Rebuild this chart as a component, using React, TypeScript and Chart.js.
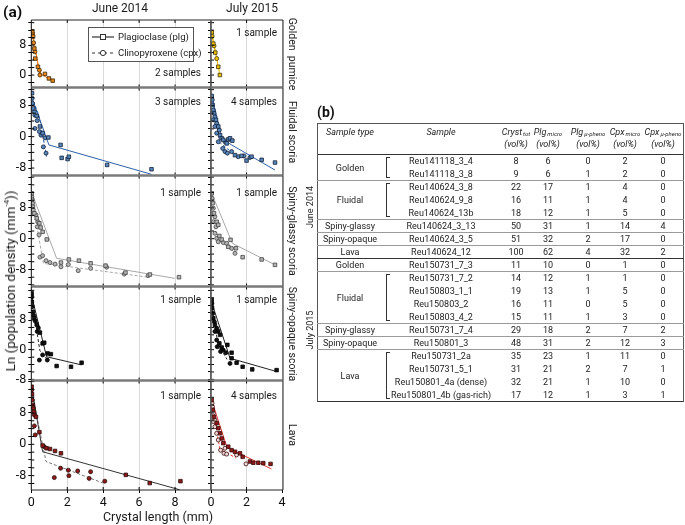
import React, { useEffect, useRef } from 'react';
import { Chart, registerables } from 'chart.js';
Chart.register(...registerables);

type Pt = [number, number];
const FONT = 'Roboto, "Liberation Sans", Arial, sans-serif';

// ---------- (a) data : [crystal length (mm), ln(n)] ----------
const goldenJun14Plg: Pt[] = [[0.06, 11.7], [0.1, 10.3], [0.17, 7.1], [0.22, 4.4], [0.37, 2.2], [0.76, 0.3], [0.98, -0.9], [1.19, -1.5]];
const goldenJun14Cpx: Pt[] = [[0.07, 11.1], [0.13, 8.6], [0.2, 6.2], [0.45, 1.3], [0.48, 0.0]];
const goldenJun14PlgFit: Pt[] = [[0.03, 12.2], [0.42, 1.8], [0.55, 0.2], [1.2, -1.6]];
const goldenJun14CpxFit: Pt[] = [[0.03, 11.3], [0.48, -0.1]];

const goldenJul15Plg: Pt[] = [[0.04, 11.4], [0.13, 8.4], [0.24, 6.0], [0.41, 2.2], [0.5, 0.0]];
const goldenJul15Cpx: Pt[] = [[0.06, 10.4], [0.17, 7.8], [0.32, 4.4]];
const goldenJul15PlgFit: Pt[] = [[0.02, 12], [0.5, 0]];
const goldenJul15CpxFit: Pt[] = [[0.02, 11.2], [0.33, 4.2]];

const fluidalJun14Plg: Pt[] = [[0.04, 11.1], [0.11, 7.2], [0.3, 5.3], [0.48, 2.6], [0.63, 0.9], [0.95, -0.2], [1.63, -2.1], [1.69, -5.4], [2.02, -5.7], [2.09, -5.1], [4.22, -7.2], [6.69, -8.3]];
const fluidalJun14Cpx: Pt[] = [[0.05, 9.8], [0.07, 8.5], [0.17, 6.4], [0.2, 5.5], [0.33, 4.1], [0.2, 2.1], [0.45, 1.3], [0.54, 0.4], [0.76, -0.3], [0.67, -2.6], [0.82, -4.2]];
const fluidalJun14PlgFit: Pt[] = [[0.03, 10], [0.98, -2.1], [6.69, -9.6]];
const fluidalJun14CpxFit: Pt[] = [[0.02, 10.2], [0.45, 5.1], [0.85, -5.1]];

const fluidalJul15Plg: Pt[] = [[0.04, 10.4], [0.09, 8.1], [0.17, 6.0], [0.28, 4.3], [0.41, 2.6], [0.51, 0.4], [0.6, -0.4], [0.69, -0.8], [0.88, -1.7], [0.97, -0.7], [1.07, -0.4], [1.2, -1.0], [1.35, -4.7], [1.72, -4.9], [2.0, -6.1], [2.28, -5.1], [2.85, -5.9], [3.6, -6.6]];
const fluidalJul15Cpx: Pt[] = [[0.07, 9.4], [0.13, 6.8], [0.22, 5.1], [0.32, 3.4], [0.47, 1.7], [0.22, 2.6], [0.13, 4.3], [0.32, 0.9], [0.41, -1.3], [0.79, -1.3], [0.66, -3.0], [0.79, -3.8], [0.92, -4.2], [1.16, -3.8], [1.53, -5.1], [1.85, -4.9], [2.19, -5.3]];
const fluidalJul15PlgFit: Pt[] = [[0.02, 11], [0.6, -0.5], [1.16, -2.1], [3.6, -8.5]];
const fluidalJul15CpxFit: Pt[] = [[0.02, 10], [0.5, -1.5], [1.3, -4.5]];

const glassyJun14Plg: Pt[] = [[0.02, 11.8], [0.05, 10.1], [0.09, 8.3], [0.17, 6.6], [0.3, 5.3], [0.45, 4.0], [0.52, 2.9], [0.63, 1.8], [0.86, -0.2], [1.65, -6.2], [2.09, -5.4], [2.65, -5.7], [3.3, -6.4], [4.13, -7.0], [5.24, -8.8], [6.6, -9.3], [8.22, -10.0]];
const glassyJun14Cpx: Pt[] = [[0.03, 10.9], [0.07, 9.2], [0.11, 7.5], [0.26, 6.2], [0.36, 4.4], [0.33, 3.1], [0.43, 1.0], [0.48, -4.8], [0.63, -4.4], [0.82, -5.7], [1.04, -6.2], [1.32, -6.6], [1.65, -7.3], [2.06, -6.7], [2.61, -8.3], [3.3, -7.7], [4.19, -7.4], [5.17, -9.2], [6.5, -9.6]];
const glassyJun14PlgFit: Pt[] = [[0.02, 12], [1.41, -5.1], [7.98, -10.3]];
const glassyJun14CpxFit: Pt[] = [[0.02, 11], [0.67, -6.4], [6.5, -10.0]];

const glassyJul15Plg: Pt[] = [[0.04, 11.8], [0.09, 9.2], [0.17, 6.6], [0.32, 4.4], [0.41, 3.6], [0.47, 0.7], [0.6, -0.2], [1.1, -0.3], [0.97, -2.1], [1.4, -2.5], [1.78, -4.8], [2.85, -5.4], [3.6, -6.8]];
const glassyJul15Cpx: Pt[] = [[0.06, 10.5], [0.13, 7.9], [0.22, 5.7], [0.13, 4.4], [0.28, 3.1], [0.22, 1.4], [0.32, 0.1], [0.41, -0.8], [0.69, -1.0], [0.88, -1.2], [1.16, -2.5], [1.35, -3.8]];
const glassyJul15PlgFit: Pt[] = [[0.02, 12], [1.2, -1.2], [3.6, -6.8]];
const glassyJul15CpxFit: Pt[] = [[0.02, 11], [0.3, 0.3], [1.4, -3.8]];

const opaqueJun14Plg: Pt[] = [[0.02, 15.2], [0.03, 12.9], [0.09, 10.2], [0.17, 8.5], [0.3, 6.8], [0.48, 4.6], [0.63, 1.7], [0.72, 1.9], [0.91, -1.0], [1.09, -1.2], [1.41, -4.4], [2.21, -4.6], [2.8, -3.5]];
const opaqueJun14Cpx: Pt[] = [[0.03, 14.3], [0.05, 11.6], [0.13, 9.2], [0.22, 7.7], [0.39, 5.9], [0.33, 4.9], [0.45, -2.8], [0.63, -1.4], [0.89, -2.8]];
const opaqueJun14PlgFit: Pt[] = [[0.02, 14.5], [0.85, -1.9], [2.8, -4.1]];
const opaqueJun14CpxFit: Pt[] = [[0.02, 13.5], [0.48, -0.3], [0.9, -2.6]];

const opaqueJul15Plg: Pt[] = [[0.04, 13.4], [0.06, 11.2], [0.13, 8.5], [0.22, 6.7], [0.41, 4.9], [0.51, 4.0], [0.47, 1.7], [0.6, 0.6], [0.92, 1.3], [1.16, -0.8], [1.16, -2.3], [1.44, -3.5], [1.78, -4.6], [2.32, -5.3], [3.69, -5.5]];
const opaqueJul15Cpx: Pt[] = [[0.05, 12.5], [0.1, 9.8], [0.19, 7.5], [0.32, 5.8], [0.22, 4.9], [0.32, 2.6], [0.35, 0.8], [0.69, -0.1], [0.54, -0.5], [0.84, -0.8], [1.07, -3.7]];
const opaqueJul15PlgFit: Pt[] = [[0.02, 13], [1.07, -2.3], [3.7, -5.9]];
const opaqueJul15CpxFit: Pt[] = [[0.02, 12], [0.4, 1.5], [0.9, -2.6]];

const lavaJun14Plg: Pt[] = [[0.02, 14.7], [0.04, 12.8], [0.09, 10.0], [0.15, 8.3], [0.26, 7.0], [0.45, 3.1], [0.63, -0.3], [0.85, -1.0], [1.04, -1.2], [1.32, -1.7], [1.65, -2.3], [5.26, -7.8], [6.59, -9.9], [8.3, -9.4]];
const lavaJun14Cpx: Pt[] = [[0.03, 13.9], [0.06, 11.3], [0.11, 9.2], [0.17, 7.5], [0.17, 4.7], [0.22, 2.4], [0.72, -0.6], [1.28, -8.5], [1.63, -6.1], [2.06, -6.6], [2.09, -8.0], [2.58, -6.8], [3.22, -8.7], [3.3, -7.0], [4.09, -9.4]];
const lavaJun14PlgFit: Pt[] = [[0.02, 14.5], [0.63, -1.9], [8.26, -11.6]];
const lavaJun14CpxFit: Pt[] = [[0.02, 13.5], [0.82, -4.4], [4.0, -9.9]];

const lavaJul15Plg: Pt[] = [[0.04, 11.3], [0.1, 8.8], [0.17, 7.0], [0.32, 5.4], [0.41, 4.1], [0.51, 2.8], [0.6, 1.5], [0.69, 0.3], [0.97, -0.6], [1.16, -1.5], [1.35, -1.9], [1.63, -2.3], [1.78, -3.2], [2.19, -4.4], [2.38, -4.7], [2.66, -4.7], [2.94, -4.8], [3.35, -5.0]];
const lavaJul15Cpx: Pt[] = [[0.06, 10.5], [0.08, 9.6], [0.13, 7.9], [0.22, 6.2], [0.13, 5.8], [0.22, 4.5], [0.32, 2.8], [0.41, 1.1], [0.54, -1.5], [0.73, -2.3], [0.88, -2.5], [0.79, -1.0], [1.44, -2.7], [1.97, -5.0]];
const lavaJul15PlgFit: Pt[] = [[0.02, 11.5], [0.9, -0.8], [3.4, -6.3]];
const lavaJul15CpxFit: Pt[] = [[0.02, 10.8], [0.5, -1.2], [1.4, -3.5]];

// ---------- (b) table data ----------
const sampleNames = ['Reu141118_3_4', 'Reu141118_3_8', 'Reu140624_3_8', 'Reu140624_9_8', 'Reu140624_13b', 'Reu140624_3_13', 'Reu140624_3_5', 'Reu140624_12', 'Reu150731_7_3', 'Reu150731_7_2', 'Reu150803_1_1', 'Reu150803_2', 'Reu150803_4_2', 'Reu150731_7_4', 'Reu150801_3', 'Reu150731_2a', 'Reu150731_5_1', 'Reu150801_4a (dense)', 'Reu150801_4b (gas-rich)'];
const crystTot = [8, 9, 22, 16, 18, 50, 51, 100, 11, 14, 19, 16, 15, 29, 48, 35, 31, 32, 17];
const plgMicro = [6, 6, 17, 11, 12, 31, 32, 62, 10, 12, 13, 11, 11, 18, 31, 23, 21, 21, 12];
const plgPheno = [0, 1, 1, 1, 1, 1, 2, 4, 0, 1, 1, 0, 1, 2, 2, 1, 2, 1, 1];
const cpxMicro = [2, 2, 4, 4, 5, 14, 17, 32, 1, 1, 5, 5, 3, 7, 12, 11, 7, 10, 3];
const cpxPheno = [0, 0, 0, 0, 0, 4, 0, 2, 0, 0, 0, 0, 0, 2, 3, 0, 1, 0, 1];
const groupTypes = ['Golden', 'Fluidal', 'Spiny-glassy', 'Spiny-opaque', 'Lava', 'Golden', 'Fluidal', 'Spiny-glassy', 'Spiny-opaque', 'Lava'];
const groupSizes = [2, 3, 1, 1, 1, 1, 4, 1, 1, 4];
const campaigns = ['June 2014', 'July 2015'];
const campaignSizes = [8, 11];

// ---------- layout ----------
interface PanelSpec { plg: Pt[]; cpx: Pt[]; plgFit: Pt[]; cpxFit: Pt[]; fill: string; cpxFill?: string; stroke: string; line: string; cpxLine?: string; note: string; noteY: number }
interface RowSpec { top: number; bottom: number; yMin: number; yMax: number; name: string; L: PanelSpec; R: PanelSpec }

const ROWS: RowSpec[] = [
  {
    top: 20, bottom: 87.5, yMin: -3.33, yMax: 14.71, name: 'Golden  pumice',
    L: { plg: goldenJun14Plg, cpx: goldenJun14Cpx, plgFit: goldenJun14PlgFit, cpxFit: goldenJun14CpxFit, fill: '#e8891c', stroke: '#3a2200', line: '#f07f1c', note: '2 samples', noteY: 73 },
    R: { plg: goldenJul15Plg, cpx: goldenJul15Cpx, plgFit: goldenJul15PlgFit, cpxFit: goldenJul15CpxFit, fill: '#f2c200', stroke: '#3a3000', line: '#e6b800', note: '1 sample', noteY: 33 },
  },
  {
    top: 87.5, bottom: 175.5, yMin: -9.9, yMax: 12.55, name: 'Fluidal scoria',
    L: { plg: fluidalJun14Plg, cpx: fluidalJun14Cpx, plgFit: fluidalJun14PlgFit, cpxFit: fluidalJun14CpxFit, fill: '#5a86b8', stroke: '#0f1f3a', line: '#2f5fa8', note: '3 samples', noteY: 102 },
    R: { plg: fluidalJul15Plg, cpx: fluidalJul15Cpx, plgFit: fluidalJul15PlgFit, cpxFit: fluidalJul15CpxFit, fill: '#5a86b8', stroke: '#0f1f3a', line: '#2f5fa8', note: '4 samples', noteY: 102 },
  },
  {
    top: 175.5, bottom: 286.5, yMin: -12.42, yMax: 16.42, name: 'Spiny-glassy scoria',
    L: { plg: glassyJun14Plg, cpx: glassyJun14Cpx, plgFit: glassyJun14PlgFit, cpxFit: glassyJun14CpxFit, fill: '#b5b5b5', stroke: '#444', line: '#a8a8a8', note: '1 sample', noteY: 193 },
    R: { plg: glassyJul15Plg, cpx: glassyJul15Cpx, plgFit: glassyJul15PlgFit, cpxFit: glassyJul15CpxFit, fill: '#b5b5b5', stroke: '#444', line: '#a8a8a8', note: '1 sample', noteY: 193 },
  },
  {
    top: 286.5, bottom: 380.5, yMin: -8.3, yMax: 17.03, name: 'Spiny-opaque scoria',
    L: { plg: opaqueJun14Plg, cpx: opaqueJun14Cpx, plgFit: opaqueJun14PlgFit, cpxFit: opaqueJun14CpxFit, fill: '#111', stroke: '#000', line: '#222', note: '1 sample', noteY: 300 },
    R: { plg: opaqueJul15Plg, cpx: opaqueJul15Cpx, plgFit: opaqueJul15PlgFit, cpxFit: opaqueJul15CpxFit, fill: '#111', stroke: '#000', line: '#222', note: '1 sample', noteY: 300 },
  },
  {
    top: 380.5, bottom: 490, yMin: -11.66, yMax: 16.28, name: 'Lava',
    L: { plg: lavaJun14Plg, cpx: lavaJun14Cpx, plgFit: lavaJun14PlgFit, cpxFit: lavaJun14CpxFit, fill: '#8e1b1b', stroke: '#2a0a0a', line: '#333', cpxLine: '#777', note: '1 sample', noteY: 396 },
    R: { plg: lavaJul15Plg, cpx: lavaJul15Cpx, plgFit: lavaJul15PlgFit, cpxFit: lavaJul15CpxFit, fill: '#8e1b1b', cpxFill: '#f2dada', stroke: '#3a0a0a', line: '#e83a3a', note: '4 samples', noteY: 396 },
  },
];

const COLS = {
  L: { plotLeft: 31.3, plotRight: 211, xMax: 10, canvasLeft: 0, axisW: 31.3, noteRight: 201 },
  R: { plotLeft: 211, plotRight: 283, xMax: 4.05, canvasLeft: 200, axisW: 11, noteRight: 277 },
};

function makeFrame(first: boolean, last: boolean, col: 'L' | 'R') {
  return {
    id: 'frame',
    afterDraw(chart: any) {
      const { ctx, chartArea: a } = chart;
      const xs = chart.scales.x, ys = chart.scales.y;
      ctx.save();
      ctx.strokeStyle = '#000';
      ctx.lineWidth = 1;
      ctx.beginPath();
      ys.ticks.forEach((t: any) => { const y = ys.getPixelForValue(t.value); ctx.moveTo(a.left, y); ctx.lineTo(a.left + 3, y); });
      xs.ticks.forEach((t: any) => {
        const x = xs.getPixelForValue(t.value);
        if (x <= a.left + 1 || x >= a.right - 1) return;
        ctx.moveTo(x, a.top); ctx.lineTo(x, a.top + 3);
        ctx.moveTo(x, a.bottom); ctx.lineTo(x, a.bottom - 3);
      });
      ctx.stroke();
      const seg = (x1: number, y1: number, x2: number, y2: number, c: string, w: number) => {
        ctx.beginPath(); ctx.strokeStyle = c; ctx.lineWidth = w; ctx.moveTo(x1, y1); ctx.lineTo(x2, y2); ctx.stroke();
      };
      seg(a.left, a.top, a.right, a.top, first ? '#222' : '#7a7a7a', first ? 1 : 2);
      seg(a.left, a.bottom, a.right, a.bottom, last ? '#222' : '#7a7a7a', last ? 1 : 2);
      if (col === 'L') {
        seg(a.left, a.top, a.left, a.bottom, '#111', 1);
        seg(a.right, a.top, a.right, a.bottom, '#555', 1.5);
      } else {
        seg(a.left, a.top, a.left, a.bottom, '#555', 1.5);
        seg(a.right, a.top, a.right, a.bottom, '#222', 1);
      }
      ctx.restore();
    },
  };
}

function Panel({ row, col, first, last }: { row: RowSpec; col: 'L' | 'R'; first: boolean; last: boolean }) {
  const ref = useRef<HTMLCanvasElement>(null);
  const g = COLS[col];
  const p = row[col];
  const padRight = 6;
  const width = Math.ceil(g.plotRight - g.canvasLeft + padRight);
  const canvasTop = Math.floor(row.top) - 8;
  const xAxisH = last ? 24 : 0;
  const height = Math.ceil(row.bottom + (last ? 26 : 8)) - canvasTop;
  const padTop = row.top - canvasTop;
  const padBottom = canvasTop + height - row.bottom - xAxisH;

  useEffect(() => {
    const toXY = (arr: Pt[]) => arr.map(([x, y]) => ({ x, y }));
    const chart = new Chart(ref.current as HTMLCanvasElement, {
      type: 'scatter',
      data: {
        datasets: [
          { data: toXY(p.plg), pointStyle: 'rect', pointRadius: 2.5, backgroundColor: p.fill, borderColor: p.stroke, borderWidth: 0.8, showLine: false },
          { data: toXY(p.cpx), pointStyle: 'circle', pointRadius: 2.0, backgroundColor: p.cpxFill || p.fill, borderColor: p.stroke, borderWidth: 0.8, showLine: false },
          { data: toXY(p.plgFit), showLine: true, pointRadius: 0, borderColor: p.line, borderWidth: 1, backgroundColor: 'transparent' },
          { data: toXY(p.cpxFit), showLine: true, pointRadius: 0, borderColor: p.cpxLine || p.line, borderWidth: 1, borderDash: [3, 2], backgroundColor: 'transparent' },
        ],
      } as any,
      options: {
        animation: false,
        responsive: false,
        devicePixelRatio: 1,
        events: [],
        layout: { padding: { left: 0, right: width - (g.plotRight - g.canvasLeft), top: padTop, bottom: padBottom } },
        plugins: { legend: { display: false }, tooltip: { enabled: false } },
        scales: {
          x: {
            type: 'linear', min: 0, max: g.xMax,
            afterFit: (s: any) => { s.height = xAxisH; s.paddingLeft = 0; s.paddingRight = 0; },
            ticks: { display: last, stepSize: 2, autoSkip: false, includeBounds: false, maxRotation: 0, padding: 2, font: { family: FONT, size: 12.5 }, color: '#111', callback: (v: any) => (v <= 8 ? String(v) : '') },
            grid: { color: '#d9d9d9', lineWidth: 1, drawTicks: last, tickLength: 3, tickColor: '#000' },
            border: { display: false },
          },
          y: {
            type: 'linear', min: row.yMin, max: row.yMax,
            afterFit: (s: any) => { s.width = g.axisW; s.paddingTop = 0; s.paddingBottom = 0; },
            ticks: { stepSize: 2, autoSkip: false, includeBounds: false, padding: 2, font: { family: FONT, size: 12.5 }, color: '#111', callback: (v: any) => (col === 'L' && (v === -8 || v === 0 || v === 8) ? String(v) : '') },
            grid: { drawOnChartArea: false, drawTicks: true, tickLength: 3, tickColor: '#000', color: '#000' },
            border: { display: false },
          },
        },
      } as any,
      plugins: [makeFrame(first, last, col) as any],
    });
    return () => chart.destroy();
  }, []);

  return (
    <canvas
      ref={ref}
      width={width}
      height={height}
      style={{ position: 'absolute', left: g.canvasLeft, top: canvasTop, width, height }}
    />
  );
}

const abs = (extra: React.CSSProperties): React.CSSProperties => ({ position: 'absolute', whiteSpace: 'nowrap', lineHeight: 1, ...extra });
const center = (x: number, y: number, size: number, extra: React.CSSProperties = {}) =>
  abs({ left: x, top: y, transform: 'translate(-50%,-50%)', fontSize: size, fontFamily: FONT, color: '#1a1a1a', ...extra });

function LegendSymbol({ kind }: { kind: 'plg' | 'cpx' }) {
  return (
    <svg width={24} height={10} style={{ display: 'block' }}>
      <line x1={1} y1={5} x2={23} y2={5} stroke="#333" strokeWidth={1.2} strokeDasharray={kind === 'cpx' ? '3,3' : undefined} />
      {kind === 'plg'
        ? <rect x={9.5} y={2.5} width={5} height={5} fill="#fff" stroke="#333" strokeWidth={1} />
        : <circle cx={12} cy={5} r={2.6} fill="#fff" stroke="#333" strokeWidth={1} />}
    </svg>
  );
}

// table geometry
const T_LEFT = 317, T_RIGHT = 684, T_TOP = 123, HEAD_BOTTOM = 154.5, ROW_H = 13;
const C = { type: 350, sample: 441, cryst: 516, plgM: 548, plgP: 588, cpxM: 625, cpxP: 663 };
const TFONT = 'Roboto, "Open Sans", sans-serif';

function Table() {
  const els: React.ReactNode[] = [];
  const nRows = sampleNames.length;
  const bottom = HEAD_BOTTOM + nRows * ROW_H;
  const cell = (key: string, x: number, y: number, content: React.ReactNode, extra: React.CSSProperties = {}) =>
    els.push(<div key={key} style={abs({ left: x, top: y, transform: 'translate(-50%,-50%)', fontSize: 9, fontFamily: TFONT, color: '#222', ...extra })}>{content}</div>);
  const hline = (key: string, y: number, color: string, h = 1) =>
    els.push(<div key={key} style={{ position: 'absolute', left: T_LEFT, width: T_RIGHT - T_LEFT, top: y - h / 2, height: h, background: color }} />);

  hline('top', T_TOP, '#555');
  hline('head', HEAD_BOTTOM, '#333');
  hline('bottom', bottom, '#333');
  els.push(<div key="lb" style={{ position: 'absolute', left: T_LEFT, top: T_TOP, width: 1, height: bottom - T_TOP, background: '#555' }} />);
  els.push(<div key="rb" style={{ position: 'absolute', left: T_RIGHT - 1, top: T_TOP, width: 1, height: bottom - T_TOP, background: '#555' }} />);

  const h1 = T_TOP + 8.5, h2 = T_TOP + 21;
  const it: React.CSSProperties = { fontStyle: 'italic' };
  const sub = (s: string) => <sub style={{ fontSize: 6, verticalAlign: 'baseline', position: 'relative', top: 1.5, marginLeft: 1 }}>{s}</sub>;
  cell('h-type', C.type, h1, 'Sample type', it);
  cell('h-sample', C.sample, h1, 'Sample', it);
  cell('h-cryst', C.cryst, h1, <span>Cryst{sub('tot')}</span>, it);
  cell('h-plgm', C.plgM, h1, <span>Plg{sub('micro')}</span>, it);
  cell('h-plgp', C.plgP, h1, <span>Plg{sub('μ-pheno')}</span>, it);
  cell('h-cpxm', C.cpxM, h1, <span>Cpx{sub('micro')}</span>, it);
  cell('h-cpxp', C.cpxP, h1, <span>Cpx{sub('μ-pheno')}</span>, it);
  [C.cryst, C.plgM, C.plgP, C.cpxM, C.cpxP].forEach((x, i) => cell('h-v' + i, x, h2, '(vol%)', it));

  for (let i = 0; i < nRows; i++) {
    const y = HEAD_BOTTOM + ROW_H * (i + 0.5);
    cell('s' + i, C.sample, y, sampleNames[i]);
    cell('c' + i, C.cryst, y, String(crystTot[i]));
    cell('pm' + i, C.plgM, y, String(plgMicro[i]));
    cell('pp' + i, C.plgP, y, String(plgPheno[i]));
    cell('cm' + i, C.cpxM, y, String(cpxMicro[i]));
    cell('cp' + i, C.cpxP, y, String(cpxPheno[i]));
  }

  let start = 0;
  groupTypes.forEach((t, gi) => {
    const n = groupSizes[gi];
    const y0 = HEAD_BOTTOM + start * ROW_H;
    const y1 = y0 + n * ROW_H;
    cell('g' + gi, C.type, (y0 + y1) / 2, t);
    if (n > 1) {
      els.push(<div key={'br' + gi} style={{ position: 'absolute', left: 386, top: y0 + 2.5, width: 4, height: y1 - y0 - 5, borderLeft: '1px solid #333', borderTop: '1px solid #333', borderBottom: '1px solid #333', boxSizing: 'border-box' }} />);
    }
    start += n;
    if (start < nRows) hline('gl' + gi, y1, start === campaignSizes[0] ? '#333' : '#9a9a9a', start === campaignSizes[0] ? 1.3 : 1);
  });

  let cs = 0;
  campaigns.forEach((c, ci) => {
    const y0 = HEAD_BOTTOM + cs * ROW_H, y1 = y0 + campaignSizes[ci] * ROW_H;
    els.push(<div key={'camp' + ci} style={abs({ left: 310, top: (y0 + y1) / 2, transform: 'translate(-50%,-50%) rotate(-90deg)', fontSize: 9, fontFamily: TFONT, color: '#222' })}>{c}</div>);
    cs += campaignSizes[ci];
  });

  els.push(<div key="b" style={abs({ left: 317, top: 105, fontSize: 14, fontWeight: 700, fontFamily: FONT, color: '#111' })}>(b)</div>);
  return <>{els}</>;
}

export default function App() {
  return (
    <div style={{ position: 'fixed', left: 0, top: 0, width: 685, height: 525, background: '#fff', overflow: 'hidden' }}>
      {ROWS.map((r, i) => (
        <React.Fragment key={i}>
          <Panel row={r} col="L" first={i === 0} last={i === ROWS.length - 1} />
          <Panel row={r} col="R" first={i === 0} last={i === ROWS.length - 1} />
        </React.Fragment>
      ))}

      <div style={abs({ left: 3, top: 5, fontSize: 15.5, fontWeight: 700, fontFamily: FONT, color: '#111' })}>(a)</div>
      <div style={center(120, 8, 12)}>June 2014</div>
      <div style={center(252, 8, 12)}>July 2015</div>

      {ROWS.map((r, i) => (
        <div key={'strip' + i} style={center(291.5, (r.top + r.bottom) / 2, 10.5, { writingMode: 'vertical-rl', whiteSpace: 'pre' })}>{r.name}</div>
      ))}

      {ROWS.map((r, i) => (
        <React.Fragment key={'notes' + i}>
          <div style={abs({ left: COLS.L.noteRight, top: r.L.noteY, transform: 'translate(-100%,-50%)', fontSize: 10, fontFamily: FONT, color: '#1a1a1a' })}>{r.L.note}</div>
          <div style={abs({ left: COLS.R.noteRight, top: r.R.noteY, transform: 'translate(-100%,-50%)', fontSize: 10, fontFamily: FONT, color: '#1a1a1a' })}>{r.R.note}</div>
        </React.Fragment>
      ))}

      <div style={{ position: 'absolute', left: 88, top: 27, width: 106, height: 35, boxSizing: 'border-box', border: '1px solid #555', background: '#fff' }}>
        <div style={{ position: 'absolute', left: 2, top: 3, display: 'flex', alignItems: 'center', gap: 3, fontSize: 9.5, fontFamily: FONT, color: '#1a1a1a', whiteSpace: 'nowrap' }}>
          <LegendSymbol kind="plg" />Plagioclase (plg)
        </div>
        <div style={{ position: 'absolute', left: 2, top: 19, display: 'flex', alignItems: 'center', gap: 3, fontSize: 9.5, fontFamily: FONT, color: '#1a1a1a', whiteSpace: 'nowrap' }}>
          <LegendSymbol kind="cpx" />Clinopyroxene (cpx)
        </div>
      </div>

      <div style={center(10, 281, 13.5, { transform: 'translate(-50%,-50%) rotate(-90deg)' })}>
        Ln (population density (mm<sup style={{ fontSize: 8 }}>-4</sup>))
      </div>
      <div style={center(158, 517, 12.5)}>Crystal length (mm)</div>

      <Table />
    </div>
  );
}
